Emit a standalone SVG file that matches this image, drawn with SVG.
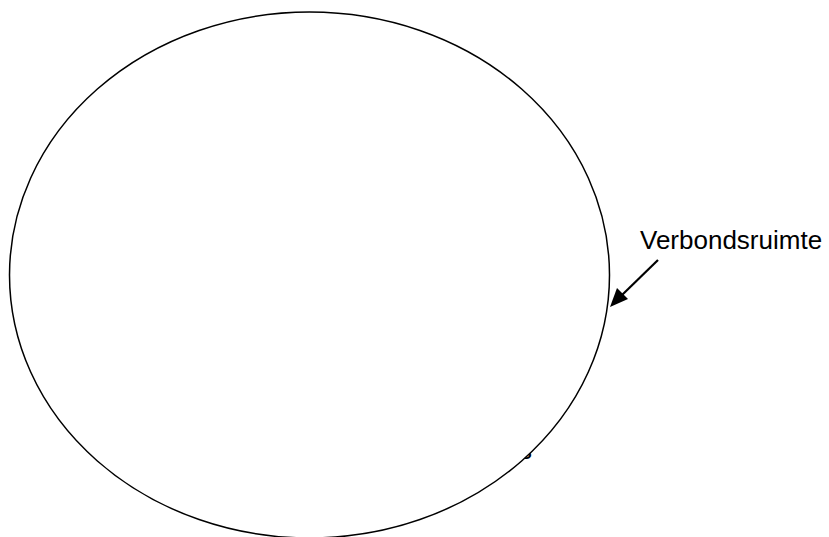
<svg xmlns="http://www.w3.org/2000/svg" width="829" height="537" viewBox="0 0 829 537">
  <style>
    .lbl { font-family: "Liberation Sans", Arial, sans-serif; font-size: 26px; fill: #000; }
    .shape { fill: #fff; stroke: #000; stroke-width: 1.5; }
    .conn { stroke: #000; stroke-width: 2.2; fill: none; }
  </style>
  <defs>
    <marker id="arrow" markerWidth="10" markerHeight="8" refX="9" refY="4" orient="auto" markerUnits="userSpaceOnUse" viewBox="0 0 10 8">
      <path d="M0,0 L10,4 L0,8 Z" fill="#000"/>
    </marker>
  </defs>
  <rect width="829" height="537" fill="#fff"/>
  <text class="lbl" x="519" y="459">s</text>
  <g id="verbondsruimte">
    <ellipse class="shape" cx="309.5" cy="275" rx="300" ry="263"/>
  </g>
  <g id="label">
    <text class="lbl" x="640" y="249">Verbondsruimte</text>
  </g>
  <g id="connectors">
    <line class="conn" x1="658" y1="260" x2="622" y2="295"/>
    <path d="M610,307 L617,288 L628,299 Z" fill="#000"/>
  </g>
</svg>
